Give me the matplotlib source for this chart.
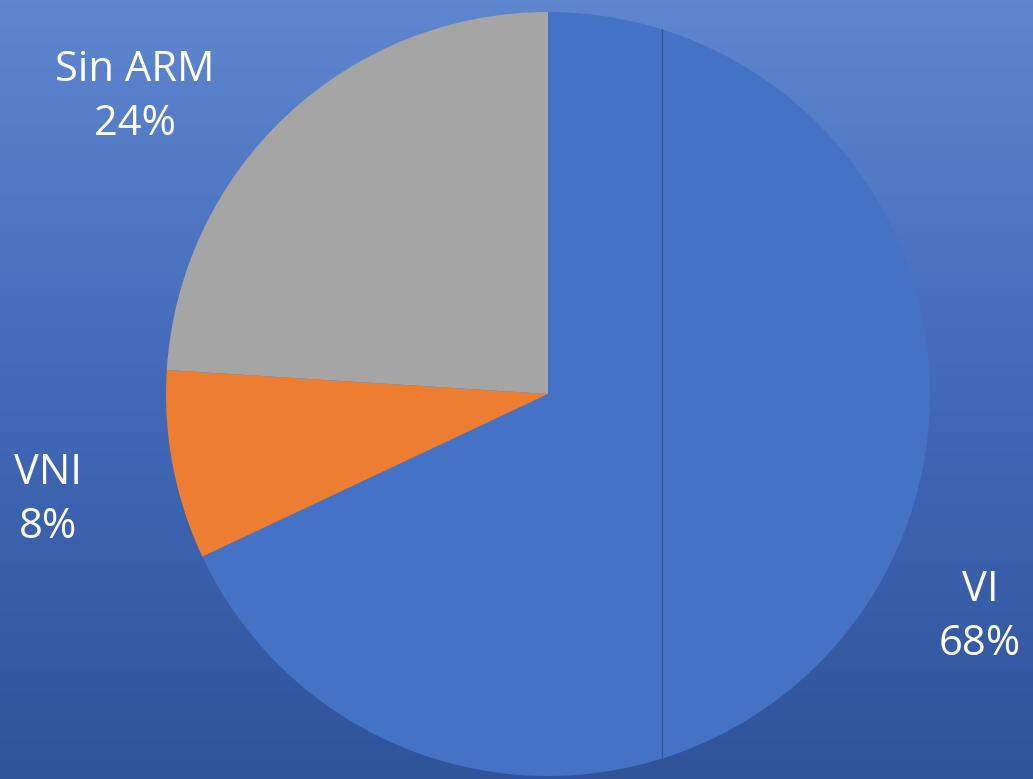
import matplotlib

matplotlib.use("Agg")

import matplotlib.pyplot as plt
import numpy as np
from matplotlib.colors import LinearSegmentedColormap

labels = ["VI", "VNI", "Sin ARM"]
shares = [68, 8, 24]
colors = ["#4472C4", "#ED7D31", "#A5A5A5"]

W, H = 1033, 779
CX, CY, R = 548, 394, 382

fig = plt.figure(figsize=(W / 100, H / 100), dpi=100)

# background gradient, lighter at the top
bg = fig.add_axes([0, 0, 1, 1])
bg_cmap = LinearSegmentedColormap.from_list("bg", ["#30549A", "#4269B9", "#5F87CF"])
grad = np.linspace(0, 1, 256).reshape(-1, 1)
bg.imshow(grad, aspect="auto", cmap=bg_cmap, origin="lower", extent=[0, 1, 0, 1])
bg.axis("off")

ax = fig.add_axes([0, 0, 1, 1])
ax.patch.set_alpha(0)

wedges, _ = ax.pie(
    shares,
    colors=colors,
    startangle=90,
    counterclock=False,
    radius=1.0,
    center=(0, 0),
    frame=True,
    wedgeprops=dict(linewidth=0),
)
ax.set_xlim(-CX / R, (W - CX) / R)
ax.set_ylim(-(H - CY) / R, CY / R)
ax.set_aspect("auto")
ax.axis("off")

# thin seam across the large slice
seam_x = (662 - CX) / R
seam, = ax.plot([seam_x, seam_x], [-1, 1], color="#2F5597", linewidth=0.8)
seam.set_clip_path(wedges[0])

label_pos = {"VI": (1.131, -0.584), "VNI": (-1.309, -0.277), "Sin ARM": (-1.081, 0.777)}
for name, pct in zip(labels, shares):
    x, y = label_pos[name]
    ax.text(
        x, y, f"{name}\n{pct}%",
        ha="center", va="center", color="white",
        fontsize=30, family="Open Sans", linespacing=1.36,
    )

fig.savefig("out.png", dpi=100)
